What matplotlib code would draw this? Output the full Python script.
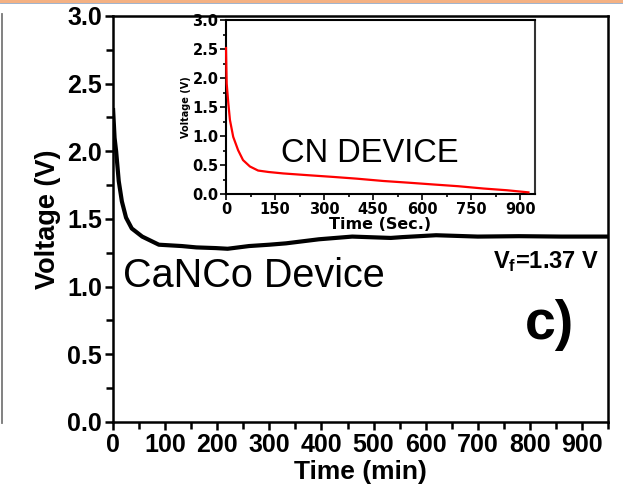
import matplotlib
matplotlib.use("Agg")
import matplotlib.pyplot as plt
from matplotlib import font_manager
from matplotlib.lines import Line2D
from matplotlib.ticker import MultipleLocator

# Discharge of the CaNCo device (main panel)
t_main = [0, 3, 6, 11, 17, 25, 36, 56, 88, 132, 160, 197, 220, 261, 300, 332,
          395, 459, 533, 555, 620, 700, 779, 860, 950]
v_main = [2.32, 2.10, 2.00, 1.78, 1.63, 1.51, 1.43, 1.37, 1.31, 1.30, 1.29, 1.285,
          1.28, 1.30, 1.31, 1.32, 1.35, 1.37, 1.36, 1.366, 1.38, 1.37, 1.373, 1.37, 1.37]

# Discharge of the CN device (inset)
t_cn = [0, 1, 2, 7, 12, 22, 37, 52, 73, 98, 130, 175, 250, 328, 400, 481,
        560, 634, 710, 788, 860, 925]
v_cn = [2.52, 2.20, 1.91, 1.57, 1.28, 0.99, 0.76, 0.59, 0.48, 0.41, 0.385, 0.36,
        0.33, 0.30, 0.27, 0.23, 0.20, 0.17, 0.14, 0.10, 0.07, 0.034]

v_final = 1.37

names = {f.name for f in font_manager.fontManager.ttflist}
sans = "Liberation Sans" if "Liberation Sans" in names else "DejaVu Sans"
narrow = "Liberation Sans Narrow" if "Liberation Sans Narrow" in names else sans

plt.rcParams["font.family"] = sans
plt.rcParams["mathtext.fontset"] = "custom"
plt.rcParams["mathtext.rm"] = sans + ":bold"
plt.rcParams["mathtext.it"] = sans + ":bold"
plt.rcParams["mathtext.bf"] = sans + ":bold"

fig = plt.figure(figsize=(6.23, 4.92), dpi=100)
ax = fig.add_axes([0.1814, 0.1423, 0.7946, 0.8252])

ax.plot(t_main, v_main, color="black", lw=3, solid_capstyle="butt")
ax.set_xlim(0, 950)
ax.set_ylim(0, 3.0)
ax.xaxis.set_major_locator(MultipleLocator(100))
ax.xaxis.set_minor_locator(MultipleLocator(50))
ax.yaxis.set_major_locator(MultipleLocator(0.5))
ax.yaxis.set_minor_locator(MultipleLocator(0.25))
ax.tick_params(which="both", direction="out", width=1.8, top=False, right=False)
ax.tick_params(which="major", length=6, labelsize=18, pad=2)
ax.tick_params(which="minor", length=5)
ax.set_yticklabels([f"{v:.1f}" for v in ax.get_yticks()])
for lab in ax.get_xticklabels() + ax.get_yticklabels():
    lab.set_fontweight("bold")
for s in ax.spines.values():
    s.set_linewidth(1.8)

ax.set_xlabel("Time (min)", fontsize=19, fontweight="bold", labelpad=2)
ax.set_ylabel("Voltage (V)", fontsize=19.5, fontweight="bold", labelpad=4)

ax.text(0.02, 0.3325, "CaNCo Device", transform=ax.transAxes, fontsize=28.5,
        ha="left", va="baseline")
ax.text(0.982, 0.379, r"V$_\mathrm{f}$=" + f"{v_final:.2f} V", transform=ax.transAxes,
        fontsize=17, fontweight="bold", ha="right", va="baseline")
ax.text(0.881, 0.239, "c)", transform=ax.transAxes, fontsize=40,
        fontweight="bold", family=narrow, ha="center", va="center")

# inset
ins = fig.add_axes([0.3628, 0.605, 0.4959, 0.354])
ins.plot(t_cn, v_cn, color="red", lw=1.6, zorder=3, clip_on=False)
ins.set_xlim(0, 945)
ins.set_ylim(0, 3.0)
ins.xaxis.set_major_locator(MultipleLocator(150))
ins.xaxis.set_minor_locator(MultipleLocator(75))
ins.yaxis.set_major_locator(MultipleLocator(0.5))
ins.yaxis.set_minor_locator(MultipleLocator(0.25))
ins.tick_params(which="both", direction="out", width=1.2, top=False, right=False)
ins.tick_params(which="major", length=4, labelsize=10.5, pad=1.5)
ins.tick_params(which="minor", length=2.5)
ins.set_yticklabels([f"{v:.1f}" for v in ins.get_yticks()])
for lab in ins.get_xticklabels() + ins.get_yticklabels():
    lab.set_fontweight("bold")
    lab.set_family("DejaVu Sans")
for s in ins.spines.values():
    s.set_linewidth(1.5)
ins.spines["right"].set_color("#333333")
ins.set_xlabel("Time (Sec.)", fontsize=11.5, fontweight="bold",
               family="DejaVu Sans", labelpad=0)
ins.set_ylabel("Voltage (V)", fontsize=7, fontweight="bold",
               family="DejaVu Sans", labelpad=1)
ins.text(0.466, 0.185, "CN DEVICE", transform=ins.transAxes, fontsize=23.5,
         ha="center", va="baseline")

# page edge lines around the figure
fig.add_artist(Line2D([0, 1], [1 - 1.2 / 492] * 2, color="#f4b183", lw=2.2))
fig.add_artist(Line2D([0, 1], [1 - 3 / 492] * 2, color="#9fb2cc", lw=0.7))
fig.add_artist(Line2D([1.5 / 623] * 2, [1 - 14 / 492, 1 - 423 / 492],
                      color="#777777", lw=1.3))

fig.savefig("out.png", dpi=100)
